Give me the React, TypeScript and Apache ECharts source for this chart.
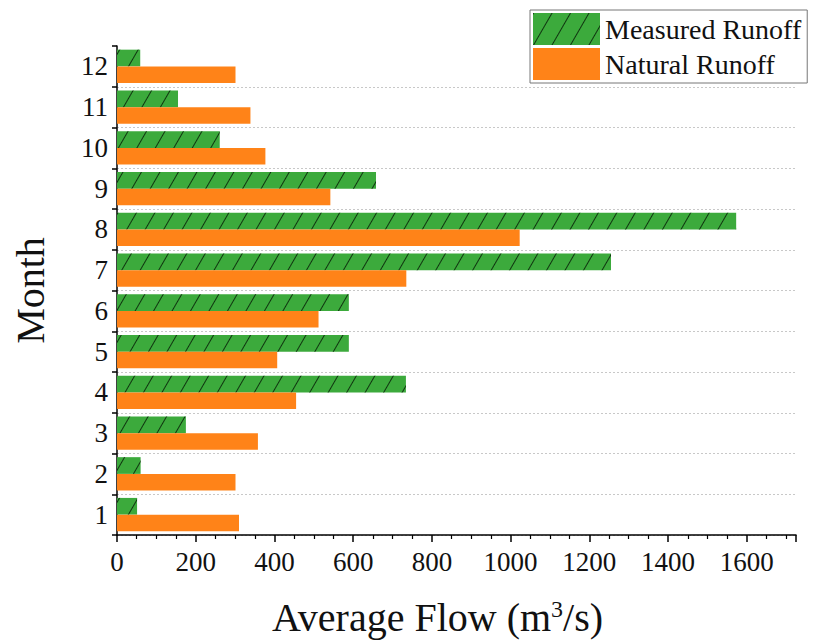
import React, { useEffect, useRef } from "react";
import * as echarts from "echarts";

const months = ["1", "2", "3", "4", "5", "6", "7", "8", "9", "10", "11", "12"];
const measuredRunoff = [51, 60, 175, 734, 589, 589, 1255, 1573, 658, 261, 155, 59];
const naturalRunoff = [310, 301, 358, 455, 407, 512, 735, 1023, 542, 377, 339, 301];
const seriesNames = ["Measured Runoff", "Natural Runoff"];

const FONT = "'Liberation Serif', 'Times New Roman', serif";

export default function App() {
  const ref = useRef<HTMLDivElement>(null);
  useEffect(() => {
    document.body.style.margin = "0";
    const chart = echarts.init(ref.current!, null, { renderer: "svg" });
    chart.setOption({
      animation: false,
      backgroundColor: "#fff",
      grid: { left: 117, right: 18, top: 46, bottom: 107, containLabel: false },
      legend: {
        orient: "vertical",
        left: 530,
        top: 10,
        data: seriesNames,
        itemWidth: 67,
        itemHeight: 32,
        itemGap: 3,
        padding: [3, 6, 3, 3],
        borderColor: "#777",
        borderWidth: 1,
        backgroundColor: "#fff",
        icon: "rect",
        textStyle: { fontSize: 28, fontFamily: FONT, color: "#111" },
      },
      xAxis: {
        type: "value",
        min: 0,
        max: 1725,
        interval: 200,
        name: "Average Flow (m{sup|3}/s)",
        nameLocation: "middle",
        nameGap: 62,
        nameTextStyle: {
          fontSize: 40,
          fontFamily: FONT,
          color: "#111",
          padding: [0, 38, 0, 0],
          rich: {
            sup: { fontSize: 24, fontFamily: FONT, color: "#111", verticalAlign: "top" },
          },
        },
        axisLine: { show: true, lineStyle: { color: "#000", width: 1.5 } },
        axisTick: { show: true, inside: false, length: 7, lineStyle: { color: "#000", width: 1.5 } },
        minorTick: { show: true, splitNumber: 4, length: 4, lineStyle: { color: "#000", width: 1.2 } },
        axisLabel: {
          fontSize: 27,
          fontFamily: FONT,
          color: "#111",
          margin: 13,
          showMaxLabel: false,
          formatter: (v: number) => String(v),
        },
        splitLine: { show: false },
      },
      yAxis: {
        type: "category",
        data: months,
        name: "Month",
        nameLocation: "middle",
        nameRotate: 90,
        nameGap: 67,
        nameTextStyle: { fontSize: 40, fontFamily: FONT, color: "#111" },
        axisLine: { show: true, lineStyle: { color: "#000", width: 1.5 } },
        axisTick: { show: true, inside: false, length: 5, lineStyle: { color: "#000", width: 1.5 } },
        axisLabel: { fontSize: 27, fontFamily: FONT, color: "#111", margin: 9 },
        splitLine: {
          show: true,
          showMaxLine: false,
          lineStyle: { color: "#c8c8c8", type: [2, 2], width: 1 },
        },
      },
      series: [
        {
          name: seriesNames[0],
          type: "bar",
          data: measuredRunoff,
          barGap: "0%",
          barCategoryGap: "18%",
          itemStyle: {
            color: "#3caa3c",
            decal: {
              symbol: "rect",
              symbolSize: 1,
              dashArrayX: [1, 0],
              dashArrayY: [1, 15],
              rotation: -Math.PI / 3,
              color: "rgba(10,40,10,0.9)",
            },
          },
        },
        {
          name: seriesNames[1],
          type: "bar",
          data: naturalRunoff,
          barGap: "0%",
          barCategoryGap: "18%",
          itemStyle: { color: "#ff8318" },
        },
      ],
    });
    return () => chart.dispose();
  }, []);
  return <div ref={ref} style={{ width: 814, height: 642 }} />;
}
